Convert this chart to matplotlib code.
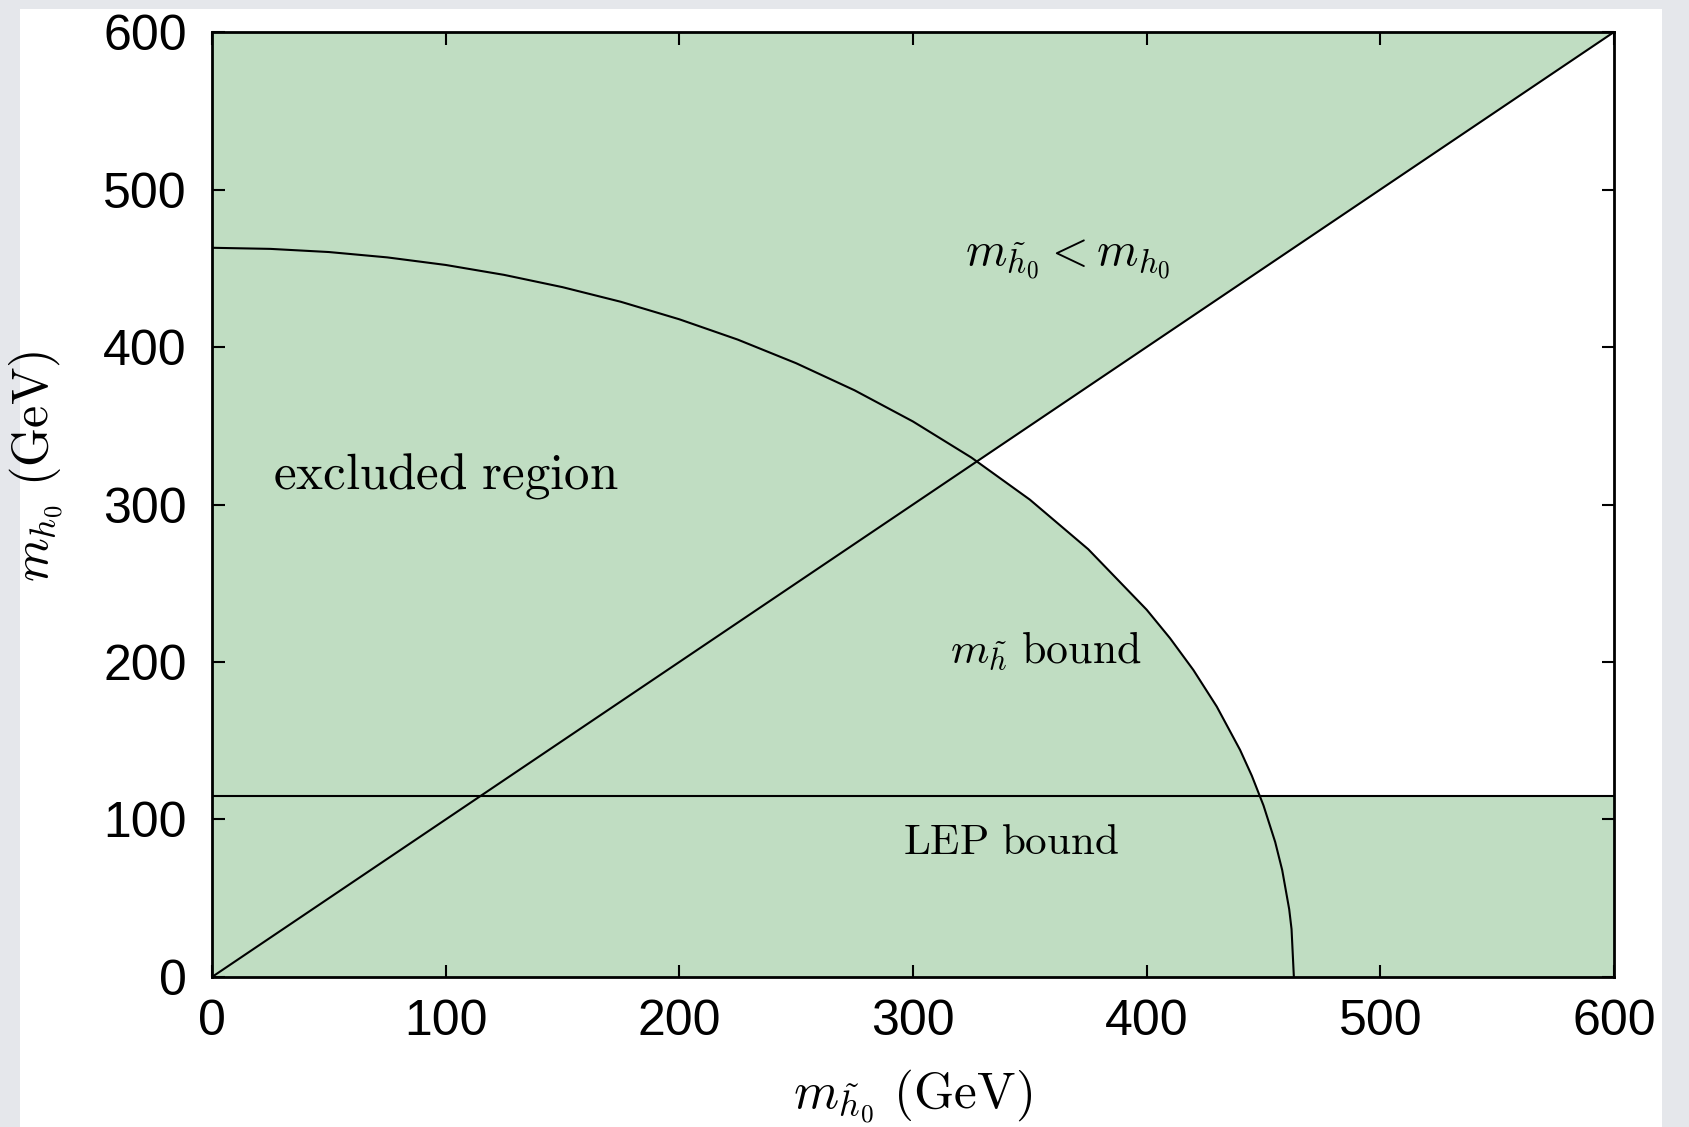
import numpy as np
import matplotlib.pyplot as plt
from matplotlib.patches import Rectangle

# bound curves (GeV)
circle_x = [0, 25, 50, 75, 100, 125, 150, 175, 200, 225, 250, 275, 300, 325, 350,
            375, 400, 410, 420, 430, 440, 445, 450, 455, 458, 461, 462, 463]
circle_y = [463, 462.3, 460.3, 456.9, 452.1, 445.8, 438.0, 428.7, 417.6, 404.7, 389.7,
            372.5, 352.7, 329.8, 303.1, 271.6, 233.2, 215.1, 194.9, 171.7, 144.1, 127.8,
            108.9, 85.7, 67.9, 43.0, 30.4, 0]
diag_x = [0, 600]
diag_y = [0, 600]
lep_bound = 115
ticks = [0, 100, 200, 300, 400, 500, 600]

GREEN = '#c0ddc2'

plt.rcParams['mathtext.fontset'] = 'cm'
plt.rcParams['font.family'] = ['Liberation Sans', 'DejaVu Sans']

fig = plt.figure(figsize=(16.89, 11.27), dpi=100, facecolor='#e5e7eb')
fig.patches.append(Rectangle((0.0118, 0), 0.9722, 0.992, transform=fig.transFigure,
                             facecolor='white', edgecolor='none', zorder=-10))
ax = fig.add_axes([0.1255, 0.1331, 0.8301, 0.8385])
ax.set_facecolor('white')

# excluded region: inside circle, above diagonal, below LEP bound
ax.fill_between(circle_x, 0, circle_y, color=GREEN, lw=0)
ax.fill_between(diag_x, diag_y, 600, color=GREEN, lw=0)
ax.axhspan(0, lep_bound, color=GREEN, lw=0)

ax.plot(circle_x, circle_y, color='black', lw=1.5)
ax.plot(diag_x, diag_y, color='black', lw=1.5)
ax.axhline(lep_bound, color='black', lw=1.5)

ax.set_xlim(0, 600)
ax.set_ylim(0, 600)
ax.set_xticks(ticks)
ax.set_yticks(ticks)
ax.tick_params(direction='in', length=9, width=1.5, top=True, right=True,
               labelsize=36)
ax.tick_params(axis='x', pad=16)
ax.tick_params(axis='y', pad=18)
for s in ax.spines.values():
    s.set_linewidth(2)

ax.text(100, 318, r'$\mathrm{excluded\ region}$', fontsize=36.7, ha='center', va='center')
ax.text(366, 456, r'$m_{\tilde{h}_0} < m_{h_0}$', fontsize=34, ha='center', va='center')
ax.text(357, 207, r'$m_{\tilde{h}}\ \mathrm{bound}$', fontsize=31.5, ha='center', va='center')
ax.text(342, 85, r'$\mathrm{LEP\ bound}$', fontsize=31, ha='center', va='center')

ax.set_xlabel(r'$m_{\tilde{h}_0}\ \mathrm{(GeV)}$', fontsize=37)
ax.set_ylabel(r'$m_{h_0}\ \mathrm{(GeV)}$', fontsize=36)
ax.xaxis.set_label_coords(0.5, -0.095)
ax.yaxis.set_label_coords(-0.105, 0.54)

fig.savefig('out.png', dpi=100, facecolor=fig.get_facecolor())
